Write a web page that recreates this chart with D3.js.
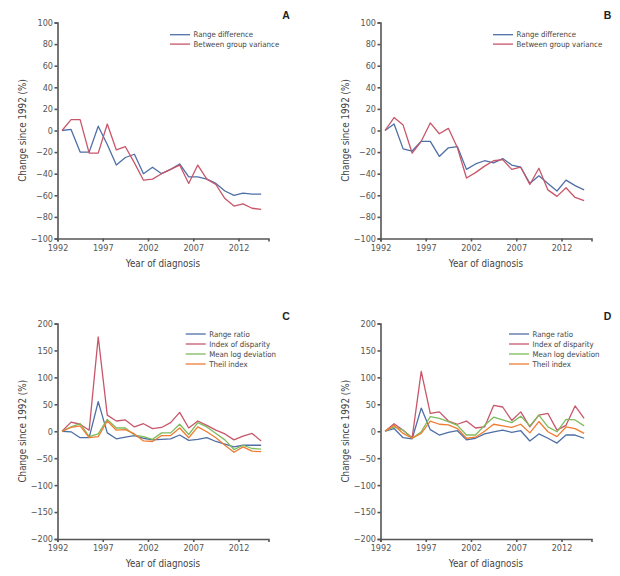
<!DOCTYPE html>
<html>
<head>
<meta charset="utf-8">
<script src="https://cdn.jsdelivr.net/npm/d3@7"></script>
<style>
  body { margin: 0; background: #fff; }
  svg { display: block; }
  .axis text { font-family: "Liberation Sans Narrow", "DejaVu Sans Condensed", "Arial Narrow", sans-serif; font-size: 9px; fill: #555; }
  .axis path, .axis line { stroke: #555; }
  .lbl { font-family: "Liberation Sans Narrow", "DejaVu Sans Condensed", "Arial Narrow", sans-serif; fill: #444; }
</style>
</head>
<body>
<svg width="620" height="576"></svg>
<script>
// Years of diagnosis (points drawn at mid-year)
const years = [1992, 1993, 1994, 1995, 1996, 1997, 1998, 1999, 2000, 2001, 2002, 2003,
               2004, 2005, 2006, 2007, 2008, 2009, 2010, 2011, 2012, 2013, 2014];
const xTicks = [1992, 1997, 2002, 2007, 2012];
const absTicks = [-100, -80, -60, -40, -20, 0, 20, 40, 60, 80, 100];
const relTicks = [-200, -150, -100, -50, 0, 50, 100, 150, 200];

// Panel A
const rangeDiffA   = [0, 1, -20, -20, 4, -13, -32, -25, -22, -40, -34, -40, -36, -31, -43, -43, -45, -49, -56, -60, -58, -59, -59];
const betweenVarA  = [0, 10, 10, -21, -21, 6, -18, -15, -30, -46, -45, -40, -36, -32, -49, -32, -45, -50, -63, -70, -68, -72, -73];
// Panel B
const rangeDiffB   = [0, 6, -17, -19, -10, -10, -24, -16, -15, -36, -31, -28, -30, -26, -32, -34, -49, -42, -49, -56, -46, -51, -55];
const betweenVarB  = [0, 12, 5, -21, -10, 7, -3, 2, -16, -44, -39, -33, -28, -27, -36, -34, -50, -35, -55, -61, -53, -62, -65];
// Panel C
const rangeRatioC  = [0, -1, -12, -12, 55, -3, -14, -11, -8, -13, -16, -15, -14, -7, -17, -15, -12, -19, -24, -29, -26, -26, -26];
const disparityC   = [0, 17, 13, 2, 175, 30, 19, 21, 8, 14, 5, 7, 16, 35, 6, 19, 11, 2, -5, -16, -9, -4, -18];
const mldC         = [0, 8, 14, -10, -5, 22, 6, 6, -7, -10, -15, -3, -3, 13, -6, 16, 8, -4, -16, -34, -26, -32, -33];
const theilC       = [0, 7, 10, -12, -10, 19, 2, 3, -5, -18, -19, -8, -8, 6, -12, 8, -1, -12, -26, -39, -29, -37, -38];
// Panel D
const rangeRatioD  = [0, 5, -12, -14, 43, 3, -7, -2, 1, -16, -13, -5, -1, 2, -2, 1, -18, -5, -13, -22, -7, -7, -13];
const disparityD   = [0, 14, 2, -12, 111, 33, 36, 19, 13, 19, 6, 8, 48, 45, 20, 36, 8, 30, 33, 2, 11, 47, 24];
const mldD         = [0, 8, 2, -13, -1, 27, 24, 18, 11, -7, -7, 11, 26, 21, 16, 28, 10, 30, 8, -1, 22, 21, 10];
const theilD       = [0, 11, -4, -13, -4, 19, 13, 12, 5, -13, -11, 0, 13, 10, 7, 13, -3, 18, -1, -10, 8, 5, -4];

const blue = "#4e6fa6", red = "#c8566a", green = "#7dbb5b", orange = "#ef7c32";

const svg = d3.select("svg");

const panels = [
  {letter: "A", left: 57.5, right: 268.5, top: 22.5, bottom: 238.5, yDomain: [-100, 100], yTicks: absTicks,
   legendX: 170, legendY: 34.7, legendStep: 9.4, letterX: 286,
   series: [{name: "Range difference", values: rangeDiffA, color: blue},
            {name: "Between group variance", values: betweenVarA, color: red}]},
  {letter: "B", left: 380.5, right: 591.5, top: 22.5, bottom: 238.5, yDomain: [-100, 100], yTicks: absTicks,
   legendX: 493, legendY: 34.7, legendStep: 9.4, letterX: 607.5,
   series: [{name: "Range difference", values: rangeDiffB, color: blue},
            {name: "Between group variance", values: betweenVarB, color: red}]},
  {letter: "C", left: 57.5, right: 268.5, top: 323.5, bottom: 539, yDomain: [-200, 200], yTicks: relTicks,
   legendX: 185.7, legendY: 334, legendStep: 10, letterX: 286,
   series: [{name: "Range ratio", values: rangeRatioC, color: blue},
            {name: "Index of disparity", values: disparityC, color: red},
            {name: "Mean log deviation", values: mldC, color: green},
            {name: "Theil index", values: theilC, color: orange}]},
  {letter: "D", left: 380.5, right: 591.5, top: 323.5, bottom: 539, yDomain: [-200, 200], yTicks: relTicks,
   legendX: 509, legendY: 334, legendStep: 10, letterX: 607.5,
   series: [{name: "Range ratio", values: rangeRatioD, color: blue},
            {name: "Index of disparity", values: disparityD, color: red},
            {name: "Mean log deviation", values: mldD, color: green},
            {name: "Theil index", values: theilD, color: orange}]}
];

panels.forEach(p => {
  const x = d3.scaleLinear().domain([1992, 1992 + (p.right - p.left) / 9.05]).range([p.left, p.right]);
  const y = d3.scaleLinear().domain(p.yDomain).range([p.bottom, p.top]);

  // Lines
  const line = d3.line()
      .x((d, i) => x(years[i] + 0.5))
      .y(d => y(d));

  svg.append("g").selectAll("path")
      .data(p.series)
      .join("path")
      .attr("d", d => line(d.values))
      .attr("fill", "none")
      .attr("stroke", d => d.color)
      .attr("stroke-width", 1.3)
      .attr("stroke-linejoin", "round");

  // Axes
  svg.append("g")
      .attr("class", "axis")
      .attr("transform", `translate(0,${p.bottom})`)
      .call(d3.axisBottom(x).tickValues(xTicks).tickFormat(d3.format("d")).tickSizeOuter(0).tickSize(3).tickPadding(3))
      .call(g => g.selectAll("path, line").attr("stroke-width", 1.6));

  svg.append("g")
      .attr("class", "axis")
      .attr("transform", `translate(${p.left},0)`)
      .call(d3.axisLeft(y).tickValues(p.yTicks).tickSizeOuter(0).tickSize(3).tickPadding(1.5))
      .call(g => g.selectAll("path, line").attr("stroke-width", 1.6));

  // Axis titles
  svg.append("text")
      .attr("class", "lbl")
      .attr("x", (p.left + p.right) / 2)
      .attr("y", p.bottom + 28)
      .attr("text-anchor", "middle")
      .style("font-size", "9.8px")
      .text("Year of diagnosis");

  svg.append("text")
      .attr("class", "lbl")
      .attr("transform", `translate(${p.left - 32},${(p.top + p.bottom) / 2}) rotate(-90)`)
      .attr("text-anchor", "middle")
      .style("font-size", "9.8px")
      .text("Change since 1992 (%)");

  // Panel letter
  svg.append("text")
      .attr("x", p.letterX)
      .attr("y", p.top - 4)
      .attr("text-anchor", "middle")
      .style("font-family", "Liberation Sans, Arial, sans-serif")
      .style("font-size", "10.5px")
      .style("font-weight", "bold")
      .style("fill", "#222")
      .text(p.letter);

  // Legend
  const legend = svg.append("g").attr("transform", `translate(${p.legendX},${p.legendY})`);
  const items = legend.selectAll("g")
      .data(p.series)
      .join("g")
      .attr("transform", (d, i) => `translate(0,${i * p.legendStep})`);
  items.append("line")
      .attr("x1", 0).attr("x2", 20)
      .attr("stroke", d => d.color)
      .attr("stroke-width", 1.3);
  items.append("text")
      .attr("class", "lbl")
      .attr("x", 23.5)
      .attr("dy", "0.35em")
      .style("font-size", "7.8px")
      .text(d => d.name);
});
</script>
</body>
</html>
